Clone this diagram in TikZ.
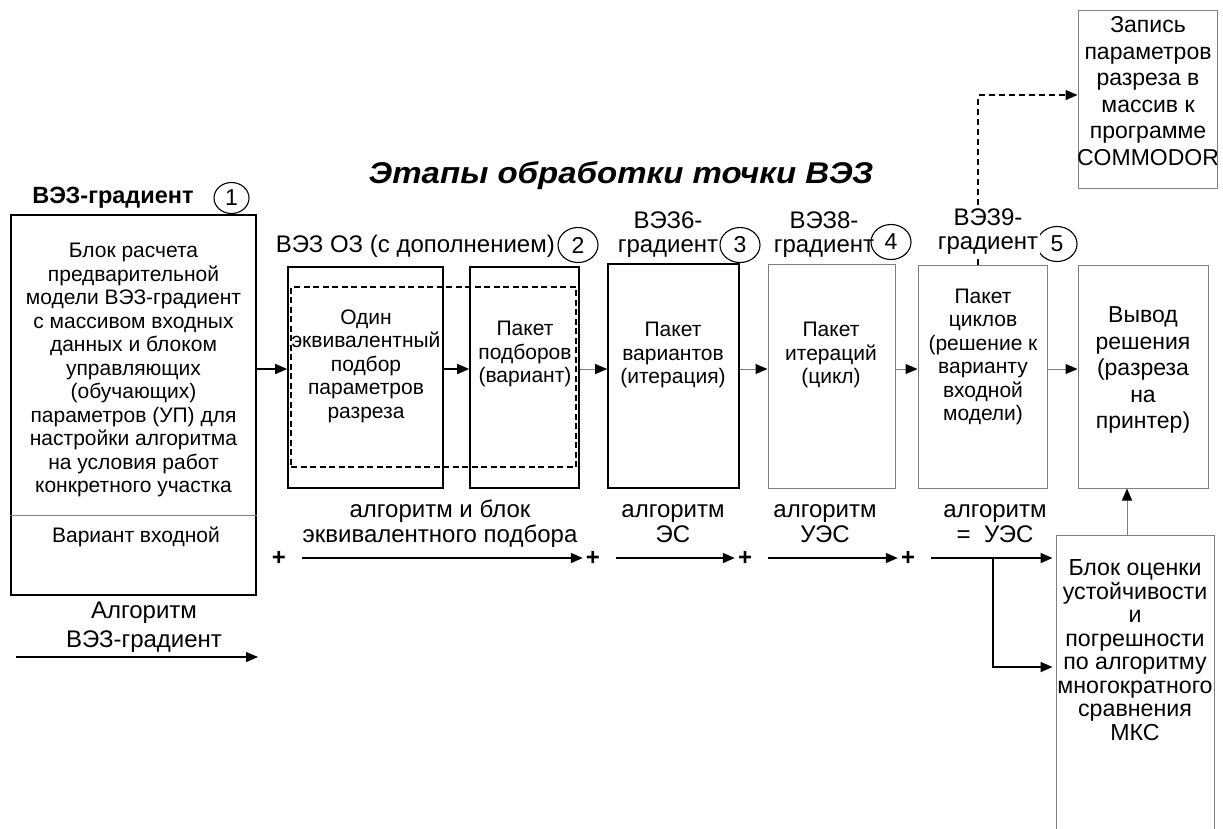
\documentclass[tikz,border=0pt]{standalone}
\usepackage{fontspec}
\setmainfont{Liberation Sans}
\newfontfamily\titlefont[FakeStretch=1.1]{Liberation Sans}
\usepackage{tikz}
\usetikzlibrary{positioning}
\usetikzlibrary{arrows.meta}
\usetikzlibrary{shapes.geometric}
\pgfdeclarelayer{nodelayer}
\pgfdeclarelayer{edgelayer}
\pgfsetlayers{nodelayer,edgelayer,main}
\definecolor{linegray}{gray}{0.5}
\tikzset{
    none/.style = {inner sep=0pt},
    txt/.style = {inner sep=0pt, align=center, font=\fontsize{21}{23.5}\selectfont},
    captxt/.style = {inner sep=0pt, align=center, font=\fontsize{24}{24}\selectfont},
    bigtxt/.style = {inner sep=0pt, align=center, font=\fontsize{23}{26.5}\selectfont},
    thickbox/.style = {draw, line width=1.6pt, inner sep=0pt},
    thinbox/.style = {draw=linegray, line width=1pt, inner sep=0pt},
    dashbox/.style = {draw, line width=1.3pt, dash pattern=on 6pt off 3.5pt, inner sep=0pt},
    num/.style = {draw, ellipse, line width=1.1pt, minimum width=40pt, minimum height=35pt, inner sep=0pt, font=\fontsize{23}{23}\selectfont},
    plus/.style = {inner sep=0pt, font=\fontsize{24}{24}\selectfont\bfseries},
    boldlink/.style = {-{Triangle[length=12pt,width=10pt]}, line width=1.6pt},
    greylink/.style = {-{Triangle[length=12pt,width=10pt,black]}, draw=linegray, line width=1pt},
    flow/.style = {-{Triangle[length=12pt,width=10pt]}, line width=1.8pt, shorten <=16pt, shorten >=3pt},
    dashlink/.style = {-{Triangle[length=12pt,width=10pt]}, line width=1.4pt, dash pattern=on 6pt off 4pt}
}
\begin{document}
\begin{tikzpicture}[x=1pt, y=-1pt]
  \useasboundingbox (0,0) rectangle (1223,828);
  \begin{pgfonlayer}{nodelayer}
    \node [style=thickbox, minimum width=245pt, minimum height=380pt] (0) at (133.5, 405) {};
    \node [style=thickbox, minimum width=155pt, minimum height=221pt] (1) at (365.5, 377.5) {};
    \node [style=thickbox, minimum width=109pt, minimum height=221pt] (2) at (524.5, 377.5) {};
    \node [style=thickbox, minimum width=131pt, minimum height=224pt] (3) at (673.5, 376) {};
    \node [style=thinbox, minimum width=127pt, minimum height=224pt] (4) at (831.5, 376) {};
    \node [style=thinbox, minimum width=129pt, minimum height=223pt] (5) at (982.5, 376.5) {};
    \node [style=thinbox, minimum width=130pt, minimum height=223pt] (6) at (1143, 376.5) {};
    \node [style=thinbox, minimum width=139pt, minimum height=178pt] (7) at (1147.5, 99) {};
    \node [style=thinbox, minimum width=158pt, minimum height=315pt] (8) at (1135, 692.5) {};
    \node [style=dashbox, minimum width=285pt, minimum height=180pt] (9) at (433.5, 377) {};

    \node [inner sep=0pt, font=\fontsize{30}{30}\titlefont\bfseries\itshape] (10) at (621, 176) {Этапы обработки точки ВЭЗ};
    \node [inner sep=0pt, font=\fontsize{23.5}{23.5}\selectfont\bfseries] (11) at (113, 198) {ВЭЗ-градиент};
    \node [style=num, minimum width=35pt, minimum height=31pt] (12) at (231.5, 198) {1};
    \node [style=captxt, anchor=east] (13) at (555, 246) {ВЭЗ ОЗ (с дополнением)};
    \node [style=num] (14) at (578, 245) {2};
    \node [style=captxt] (15) at (668, 235) {ВЭЗ6-\\градиент};
    \node [style=num] (16) at (740, 245) {3};
    \node [style=captxt] (17) at (824, 235) {ВЭЗ8-\\градиент};
    \node [style=num] (18) at (891, 242) {4};
    \node [style=num] (19) at (1057, 244) {5};

    \node [style=txt] (20) at (133.5, 370) {Блок расчета\\предварительной\\модели ВЭЗ-градиент\\с массивом входных\\данных и блоком\\управляющих\\(обучающих)\\параметров (УП) для\\настройки алгоритма\\на условия работ\\конкретного участка};
    \node [style=txt] (21) at (136, 537) {Вариант входной};
    \node [style=txt] (22) at (366, 366) {Один\\эквивалентный\\подбор\\параметров\\разреза};
    \node [style=txt] (23) at (525, 354) {Пакет\\подборов\\(вариант)};
    \node [style=txt] (24) at (673, 355) {Пакет\\вариантов\\(итерация)};
    \node [style=txt] (25) at (831, 355) {Пакет\\итераций\\(цикл)};
    \node [style=txt] (26) at (983, 357) {Пакет\\циклов\\(решение к\\варианту\\входной\\модели)};
    \node [style=bigtxt] (27) at (1143, 370) {Вывод\\решения\\(разреза\\на\\принтер)};
    \node [style=bigtxt] (28) at (1148, 91) {Запись\\параметров\\разреза в\\массив к\\программе\\COMMODOR};
    \node [style=captxt, font=\fontsize{23.2}{23.5}\selectfont] (29) at (1135, 650) {Блок оценки\\устойчивости\\и\\погрешности\\по алгоритму\\многократного\\сравнения\\МКС};

    \node [style=captxt, font=\fontsize{24}{25}\selectfont] (30) at (440, 524) {алгоритм и блок\\эквивалентного подбора};
    \node [style=captxt, font=\fontsize{24}{25}\selectfont] (31) at (673, 524) {алгоритм\\ЭС};
    \node [style=captxt, font=\fontsize{24}{25}\selectfont] (32) at (825, 524) {алгоритм\\УЭС};
    \node [style=captxt, font=\fontsize{24}{25}\selectfont] (33) at (995, 524) {алгоритм\\=\ \ УЭС};
    \node [style=captxt, font=\fontsize{24}{29}\selectfont] (34) at (144, 627) {Алгоритм\\ВЭЗ-градиент};

    \node [style=plus] (35) at (279, 558) {+};
    \node [style=plus] (36) at (593, 558) {+};
    \node [style=plus] (37) at (745, 558) {+};
    \node [style=plus] (38) at (908, 558) {+};

    \coordinate (40) at (0, 369);
    \coordinate (41) at (993, 558);
    \coordinate (42) at (16, 657);
    \coordinate (43) at (258, 657);
  \end{pgfonlayer}
  \begin{pgfonlayer}{edgelayer}
    \draw [draw=linegray, line width=1pt] (0.west |- 0,515) to (0.east |- 0,515);
    \draw [style=boldlink] (0.east |- 40) to (1.west |- 40);
    \draw [style=boldlink] (1.east |- 40) to (2.west |- 40);
    \draw [style=greylink] (2.east |- 40) to (3.west |- 40);
    \draw [style=greylink] (3.east |- 40) to (4.west |- 40);
    \draw [style=greylink] (4.east |- 40) to (5.west |- 40);
    \draw [style=greylink] (5.east |- 40) to (6.west |- 40);
    \draw [style=greylink] ([xshift=-8pt]8.north) to ([xshift=-8pt]8.north |- 6.south);
    \draw [style=dashlink] ([xshift=-4.5pt]5.north) |- ([yshift=4pt]7.west);
    \draw [style=flow] (35) to (36);
    \draw [style=flow] (36) to (37);
    \draw [style=flow] (37) to (38);
    \draw [style=flow] (38) to (38 -| 8.west);
    \draw [style=flow, shorten <=0pt] (41) |- ([yshift=25.5pt]8.west);
    \draw [-{Triangle[length=12pt,width=10pt]}, line width=1.1pt] (42) to (43);
  \end{pgfonlayer}
  \node [style=captxt, fill=white, inner sep=2pt] (39) at (988, 232) {ВЭЗ9-\\градиент};
\end{tikzpicture}
\end{document}
